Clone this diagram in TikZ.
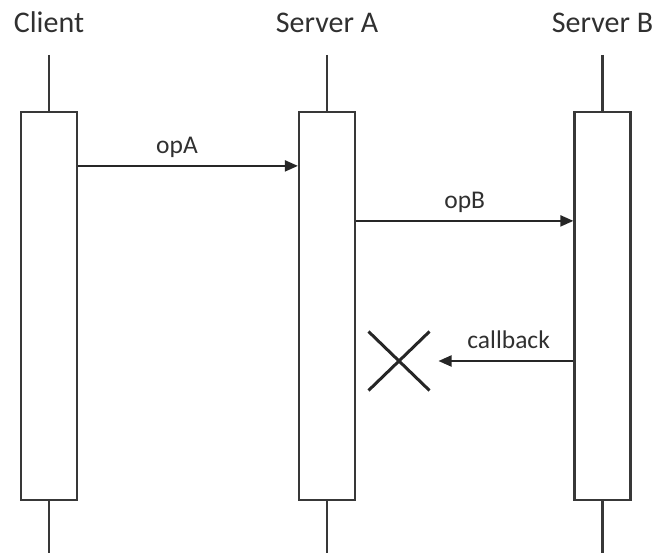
\documentclass[tikz,border=0pt]{standalone}
\usepackage{fontspec}
\setmainfont{Carlito}
\usetikzlibrary{arrows.meta, shapes.misc, positioning}
\definecolor{inkgray}{HTML}{262626}
\definecolor{boxgray}{HTML}{383838}
\definecolor{textgray}{HTML}{303030}

\begin{document}
\begin{tikzpicture}[
    x=1pt, y=-1pt,
    actbox/.style={
        rectangle, draw=boxgray, line width=2.2pt,
        minimum width=56pt, minimum height=388pt,
        inner sep=0pt, fill=white
    },
    title/.style={
        font=\fontsize{30}{35}\selectfont, text=textgray, inner sep=0pt
    },
    lifeline/.style={draw=boxgray, line width=2.2pt},
    msg/.style={-{Triangle[length=13pt, width=11pt]}, draw=inkgray, line width=2pt},
    msglabel/.style={font=\fontsize{25.5}{30}\selectfont, text=textgray,
        inner sep=0pt, anchor=base, yshift=12pt},
    lost/.style={cross out, draw=inkgray, line width=3pt,
        minimum width=58pt, minimum height=56pt, inner sep=0pt}
]
\useasboundingbox (0,0) rectangle (654,553);

%% ─── LIFELINES ───────────────────────────────────────────────
\coordinate (clienttop)  at (49,55);
\coordinate (clientbot)  at (49,553);
\coordinate (serveratop) at (327,55);
\coordinate (serverabot) at (327,553);
\coordinate (serverbtop) at (602.5,55);
\coordinate (serverbbot) at (602.5,553);

\node[title, above=22pt of clienttop]  {Client};
\node[title, above=22pt of serveratop] {Server A};
\node[title, above=22pt of serverbtop] {Server B};

%% ─── ACTIVATION BOXES ────────────────────────────────────────
\node[actbox] (client)  at (49,306)    {};
\node[actbox] (servera) at (327,306)   {};
\node[actbox] (serverb) at (602.5,306) {};

\draw[lifeline] (clienttop)  -- (client.north);
\draw[lifeline] (client.south)  -- (clientbot);
\draw[lifeline] (serveratop) -- (servera.north);
\draw[lifeline] (servera.south) -- (serverabot);
\draw[lifeline] (serverbtop) -- (serverb.north);
\draw[lifeline] (serverb.south) -- (serverbbot);

%% ─── LOST CALLBACK ───────────────────────────────────────────
\node[lost] (dropped) at (399,361) {};

%% ─── MESSAGES ────────────────────────────────────────────────
\draw[msg] ([yshift=-55pt]client.north east)
    -- node[msglabel, pos=0.45]{opA} ([yshift=-55pt]servera.north west);
\draw[msg] ([yshift=-110pt]servera.north east)
    -- node[msglabel]{opB} ([yshift=-110pt]serverb.north west);

% callback never reaches Server A
\draw[msg] (serverb.west |- dropped)
    -- node[msglabel, pos=0.48]{callback} ([xshift=9pt]dropped.east);

\end{tikzpicture}
\end{document}
